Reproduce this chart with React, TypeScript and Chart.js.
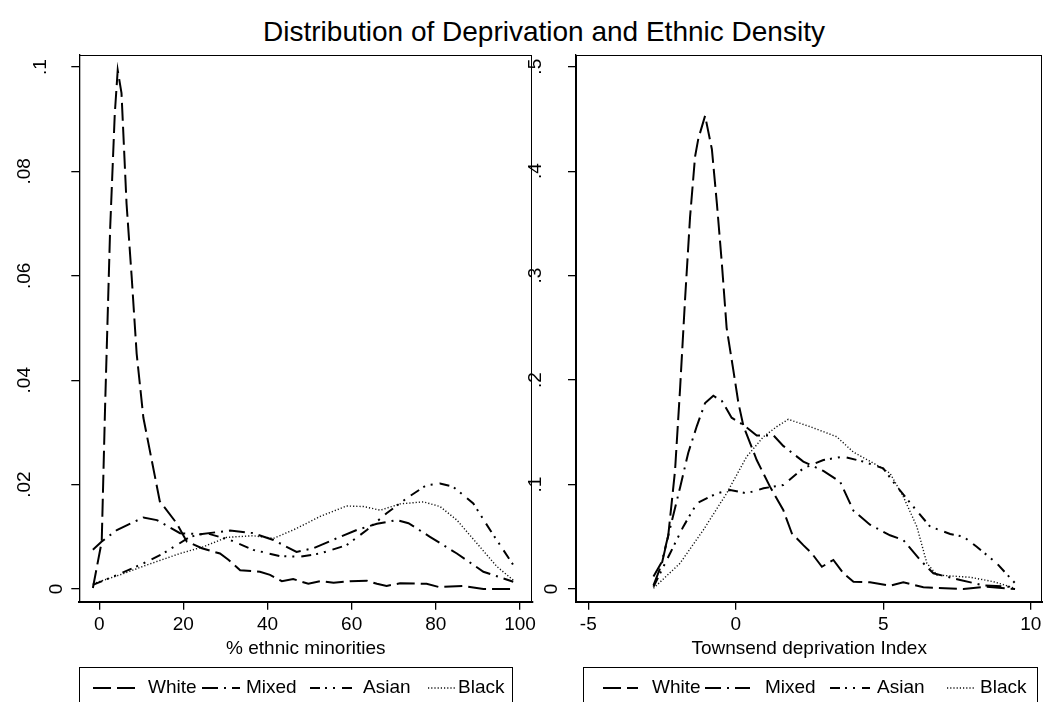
import { useEffect, useRef } from "react";
import { Chart, registerables } from "chart.js";

Chart.register(...registerables);

const FONT = '"Liberation Sans", Arial, Helvetica, sans-serif';
const PAGE_H = 702;

type Pt = [number, number];

// ---- Kernel density estimates: % ethnic minorities ----
const ethnicWhite: Pt[] = [
  [-1.5, 0.0002], [0.6, 0.0091], [1.4, 0.0349], [2.6, 0.069], [3.7, 0.091], [4.4, 0.0994],
  [5.3, 0.095], [6.5, 0.0738], [7.7, 0.06], [8.9, 0.0451], [10.5, 0.0328], [12.5, 0.0246],
  [14.4, 0.0168], [18.4, 0.0126], [20.8, 0.0091], [24.4, 0.0078], [28.7, 0.0068], [30.7, 0.0056],
  [33.5, 0.0036], [38.2, 0.0033], [40.6, 0.0027], [43.4, 0.0015], [46.1, 0.0019], [49.7, 0.001],
  [52.5, 0.0015], [55.7, 0.0012], [59.6, 0.0015], [63.6, 0.0016], [66, 0.001], [68.3, 0.0006],
  [71.5, 0.0011], [77.8, 0.001], [80.6, 0.0004], [86.5, 0.0006], [91.3, 0], [98.4, 0],
];
const ethnicMixed: Pt[] = [
  [-1.5, 0.0075], [0.6, 0.0091], [4.2, 0.0113], [10.5, 0.0137], [13.7, 0.0132], [19.2, 0.0107],
  [24, 0.0105], [31.1, 0.0112], [36.6, 0.0107], [41.4, 0.0094], [46.9, 0.0071], [50.9, 0.0078],
  [56.4, 0.0097], [61.2, 0.0113], [66, 0.0125], [70.7, 0.0132], [73.5, 0.0126], [78.6, 0.01],
  [85, 0.0068], [91.3, 0.0033], [98.4, 0.0014],
];
const ethnicAsian: Pt[] = [
  [-1.5, 0.0008], [3.4, 0.0024], [10.5, 0.0049], [15.2, 0.0068], [21.6, 0.01], [25.5, 0.0107],
  [31.1, 0.0094], [36.6, 0.0075], [43, 0.0063], [47.7, 0.0062], [52.5, 0.0068], [58.8, 0.0084],
  [63.6, 0.0113], [68.3, 0.0145], [73.1, 0.0174], [77.8, 0.0199], [81, 0.0202], [84.1, 0.0196],
  [88.9, 0.0164], [92.9, 0.0113], [98.4, 0.0046],
];
const ethnicBlack: Pt[] = [
  [-1.5, 0.001], [4.9, 0.0027], [11.3, 0.0046], [19.2, 0.0068], [24.8, 0.0081], [30.3, 0.0099],
  [36.6, 0.0102], [41.4, 0.0097], [46.9, 0.0116], [52.5, 0.0139], [58.8, 0.0159], [62.8, 0.0158],
  [66.8, 0.0151], [71.5, 0.0163], [77, 0.0167], [81, 0.0158], [85, 0.0132], [89.7, 0.0088],
  [94.5, 0.0043], [98.4, 0.0017],
];

// ---- Kernel density estimates: Townsend deprivation index ----
const townsendWhite: Pt[] = [
  [-2.79, 0.0035], [-2.51, 0.024], [-2.29, 0.051], [-2.06, 0.113], [-1.89, 0.191], [-1.72, 0.277],
  [-1.55, 0.356], [-1.38, 0.414], [-1.27, 0.431], [-1.04, 0.453], [-0.81, 0.421], [-0.64, 0.369],
  [-0.47, 0.311], [-0.31, 0.25], [-0.08, 0.209], [0.09, 0.178], [0.26, 0.156], [0.71, 0.1235],
  [1.16, 0.098], [1.61, 0.0756], [1.9, 0.0533], [2.29, 0.042], [2.58, 0.034], [2.92, 0.0213],
  [3.31, 0.0278], [3.65, 0.015], [3.99, 0.007], [4.55, 0.0064], [5.23, 0.0032], [5.68, 0.0064],
  [6.36, 0.0016], [7.72, 0], [8.51, 0.0022], [9.47, 0],
];
const townsendMixed: Pt[] = [
  [-2.79, 0.012], [-2.51, 0.0257], [-2.23, 0.058], [-1.89, 0.097], [-1.61, 0.1305], [-1.32, 0.156],
  [-1.04, 0.178], [-0.76, 0.185], [-0.47, 0.18], [-0.14, 0.164], [0.26, 0.157], [0.71, 0.147],
  [1.28, 0.147], [1.61, 0.137], [2.29, 0.122], [2.97, 0.113], [3.54, 0.1026], [3.99, 0.075],
  [4.55, 0.0616], [5.23, 0.0514], [5.68, 0.0469], [6.25, 0.0278], [6.7, 0.015], [7.61, 0.0086],
  [8.4, 0.0035], [9.41, 0.0019],
];
const townsendAsian: Pt[] = [
  [-2.79, 0.0022], [-2.23, 0.034], [-1.78, 0.0597], [-1.32, 0.082], [-0.64, 0.0916], [-0.19, 0.0948],
  [0.37, 0.0916], [0.94, 0.0964], [1.61, 0.0996], [2.29, 0.1155], [2.97, 0.1235], [3.65, 0.1267],
  [4.33, 0.1219], [5.0, 0.1155], [5.46, 0.098], [6.02, 0.0788], [6.59, 0.0597], [7.27, 0.0527],
  [7.72, 0.0501], [8.17, 0.0405], [8.85, 0.0246], [9.47, 0.0055],
];
const townsendBlack: Pt[] = [
  [-2.79, 0.0007], [-1.89, 0.0246], [-1.1, 0.0565], [-0.31, 0.0916], [0.37, 0.1267], [0.94, 0.1458],
  [1.39, 0.1554], [1.78, 0.1624], [2.52, 0.1554], [3.42, 0.1458], [3.99, 0.131], [4.78, 0.1187],
  [5.23, 0.1108], [5.68, 0.0884], [6.14, 0.0597], [6.48, 0.0246], [6.82, 0.0134], [7.95, 0.0112],
  [8.74, 0.007], [9.47, 0.0007],
];

const seriesNames = ["White", "Mixed", "Asian", "Black"];

const ethnicTicksX = [0, 20, 40, 60, 80, 100];
const ethnicTicksY = [0, 0.02, 0.04, 0.06, 0.08, 0.1];
const ethnicLabelsY = ["0", ".02", ".04", ".06", ".08", ".1"];

const townsendTicksX = [-5, 0, 5, 10];
const townsendTicksY = [0, 0.1, 0.2, 0.3, 0.4, 0.5];
const townsendLabelsY = ["0", ".1", ".2", ".3", ".4", ".5"];

// Line styles for White, Mixed, Asian, Black
const lineStyles = [
  { dash: [18, 6], width: 2, color: "#000" },
  { dash: [16, 6, 2, 6], width: 2, color: "#000" },
  { dash: [10, 5, 2, 6, 2, 7], width: 2, color: "#000" },
  { dash: [1.2, 2], width: 1.4, color: "#111" },
];

const FONT_SIZE = 19;
const Y_LABEL_STEP = 32; // shift per missing character for rotated y labels

interface PanelSpec {
  canvasLeft: number;
  canvasWidth: number;
  area: { left: number; right: number; top: number; bottom: number };
  legendTop: number;
  xRange: [number, number];
  yRange: [number, number];
  xTicks: number[];
  yTicks: number[];
  yLabels: string[];
  yLabelPad: number;
  xTitle: string;
  series: Pt[][];
  legendBox: [number, number];
  legendKeys: [number, number, number][]; // key start, key end, text x
}

const ethnicPanel: PanelSpec = {
  canvasLeft: 0,
  canvasWidth: 545,
  area: { left: 79.3, right: 532.3, top: 54.7, bottom: 601.7 },
  legendTop: 667,
  xRange: [-4.729, 102.923],
  yRange: [-0.002433, 0.102356],
  xTicks: ethnicTicksX,
  yTicks: ethnicTicksY,
  yLabels: ethnicLabelsY,
  yLabelPad: 33.7,
  xTitle: "% ethnic minorities",
  series: [ethnicWhite, ethnicMixed, ethnicAsian, ethnicBlack],
  legendBox: [79, 512],
  legendKeys: [
    [93, 135, 148],
    [202, 240, 246],
    [310, 357, 363],
    [428, 456, 458],
  ],
};

const townsendPanel: PanelSpec = {
  canvasLeft: 480,
  canvasWidth: 580,
  area: { left: 576, right: 1042.3, top: 54.7, bottom: 601.7 },
  legendTop: 667,
  xRange: [-5.417, 10.393],
  yRange: [-0.01216, 0.51149],
  xTicks: townsendTicksX,
  yTicks: townsendTicksY,
  yLabels: townsendLabelsY,
  yLabelPad: 24.6,
  xTitle: "Townsend deprivation Index",
  series: [townsendWhite, townsendMixed, townsendAsian, townsendBlack],
  legendBox: [583, 1037],
  legendKeys: [
    [603, 638, 652],
    [705, 750, 765],
    [830, 870, 877],
    [947, 975, 980],
  ],
};

// Rotated y labels are pushed towards the axis by one step per missing character.
function stackedLabel(text: string, maxChars: number): string[] {
  const pad = Math.max(0, maxChars - text.length);
  return [...Array(pad).fill(""), text];
}

function buildPanel(canvas: HTMLCanvasElement, spec: PanelSpec): Chart {
  const off = spec.canvasLeft;
  const area = spec.area;
  const maxChars = Math.max(...spec.yLabels.map((l) => l.length));

  const framePlugin = {
    id: "plotFrame",
    afterDatasetsDraw(chart: Chart) {
      const { ctx, chartArea } = chart;
      ctx.save();
      ctx.strokeStyle = "#000";
      ctx.lineWidth = 1;
      const l = Math.round(chartArea.left) + 0.5;
      const t = Math.round(chartArea.top) + 0.5;
      const r = Math.round(chartArea.right) - 0.5;
      const b = Math.round(chartArea.bottom) + 0.5;
      ctx.strokeRect(l, t, r - l, b - t);
      ctx.restore();
    },
  };

  const keyLegendPlugin = {
    id: "keyLegend",
    afterDraw(chart: Chart) {
      const { ctx } = chart;
      const y = 688;
      ctx.save();
      ctx.strokeStyle = "#000";
      ctx.lineWidth = 1;
      const bx0 = Math.round(spec.legendBox[0] - off) + 0.5;
      const bx1 = Math.round(spec.legendBox[1] - off) + 0.5;
      ctx.strokeRect(bx0, spec.legendTop + 0.5, bx1 - bx0, 80);
      ctx.font = `${FONT_SIZE}px ${FONT}`;
      ctx.fillStyle = "#000";
      ctx.textBaseline = "middle";
      ctx.textAlign = "left";
      spec.legendKeys.forEach(([k0, k1, tx], i) => {
        const st = lineStyles[i];
        ctx.save();
        ctx.strokeStyle = st.color;
        ctx.lineWidth = st.width;
        ctx.setLineDash(st.dash);
        ctx.lineDashOffset = 0;
        ctx.beginPath();
        ctx.moveTo(k0 - off, y);
        ctx.lineTo(k1 - off, y);
        ctx.stroke();
        ctx.restore();
        ctx.fillText(seriesNames[i], tx - off, y);
      });
      ctx.restore();
    },
  };

  const gridOpts = {
    drawOnChartArea: false,
    drawTicks: true,
    tickLength: 8,
    color: "#000",
    lineWidth: 1.3,
  };

  return new Chart(canvas, {
    type: "line",
    data: {
      datasets: spec.series.map((pts, i) => ({
        label: seriesNames[i],
        data: pts.map(([x, y]) => ({ x, y })),
        borderColor: lineStyles[i].color,
        borderWidth: lineStyles[i].width,
        borderDash: lineStyles[i].dash,
        pointRadius: 0,
        tension: 0,
        fill: false,
      })),
    },
    options: {
      animation: false,
      responsive: false,
      devicePixelRatio: 1,
      events: [],
      layout: {
        padding: {
          left: 0,
          top: area.top,
          right: spec.canvasWidth - (area.right - off),
          bottom: PAGE_H - spec.legendTop,
        },
      },
      plugins: {
        legend: { display: false },
        tooltip: { enabled: false },
        title: { display: false },
      },
      scales: {
        x: {
          type: "linear",
          min: spec.xRange[0],
          max: spec.xRange[1],
          afterBuildTicks: (s: any) => {
            s.ticks = spec.xTicks.map((v) => ({ value: v }));
          },
          afterFit: (s: any) => {
            s.height = spec.legendTop - area.bottom;
            s.paddingLeft = 0;
            s.paddingRight = 0;
          },
          grid: gridOpts,
          border: { display: true, color: "#000", width: 2 },
          ticks: {
            autoSkip: false,
            maxRotation: 0,
            minRotation: 0,
            padding: 4,
            color: "#000",
            font: { family: FONT, size: FONT_SIZE, lineHeight: 1.2 },
            callback: (v: any) => String(v),
          },
          title: {
            display: true,
            text: spec.xTitle,
            color: "#000",
            font: { family: FONT, size: FONT_SIZE, lineHeight: 1.2 },
            padding: { top: 0, bottom: 7.2 },
          },
        },
        y: {
          type: "linear",
          position: "left",
          min: spec.yRange[0],
          max: spec.yRange[1],
          afterBuildTicks: (s: any) => {
            s.ticks = spec.yTicks.map((v) => ({ value: v }));
          },
          afterFit: (s: any) => {
            s.width = area.left - off;
            s.paddingTop = 0;
            s.paddingBottom = 0;
          },
          grid: gridOpts,
          border: { display: true, color: "#000", width: 1.3 },
          ticks: {
            autoSkip: false,
            minRotation: 90,
            maxRotation: 90,
            crossAlign: "center",
            padding: spec.yLabelPad,
            color: "#000",
            font: { family: FONT, size: FONT_SIZE, lineHeight: Y_LABEL_STEP / FONT_SIZE },
            callback: (_v: any, i: number) => stackedLabel(spec.yLabels[i], maxChars),
          },
        },
      },
    } as any,
    plugins: [framePlugin, keyLegendPlugin],
  });
}

export default function App() {
  const leftRef = useRef<HTMLCanvasElement>(null);
  const rightRef = useRef<HTMLCanvasElement>(null);

  useEffect(() => {
    const left = buildPanel(leftRef.current!, ethnicPanel);
    const right = buildPanel(rightRef.current!, townsendPanel);
    return () => {
      left.destroy();
      right.destroy();
    };
  }, []);

  return (
    <div
      style={{
        position: "absolute",
        left: 0,
        top: 0,
        width: 1043,
        height: 702,
        overflow: "hidden",
        background: "#fff",
      }}
    >
      <div
        style={{
          position: "absolute",
          left: 0,
          top: 18.3,
          width: 1088,
          textAlign: "center",
          fontFamily: FONT,
          fontSize: 28,
          lineHeight: "28px",
          whiteSpace: "nowrap",
          color: "#000",
        }}
      >
        Distribution of Deprivation and Ethnic Density
      </div>
      <canvas
        ref={leftRef}
        width={ethnicPanel.canvasWidth}
        height={PAGE_H}
        style={{ position: "absolute", left: ethnicPanel.canvasLeft, top: 0, width: ethnicPanel.canvasWidth, height: PAGE_H }}
      />
      <canvas
        ref={rightRef}
        width={townsendPanel.canvasWidth}
        height={PAGE_H}
        style={{ position: "absolute", left: townsendPanel.canvasLeft, top: 0, width: townsendPanel.canvasWidth, height: PAGE_H }}
      />
    </div>
  );
}
